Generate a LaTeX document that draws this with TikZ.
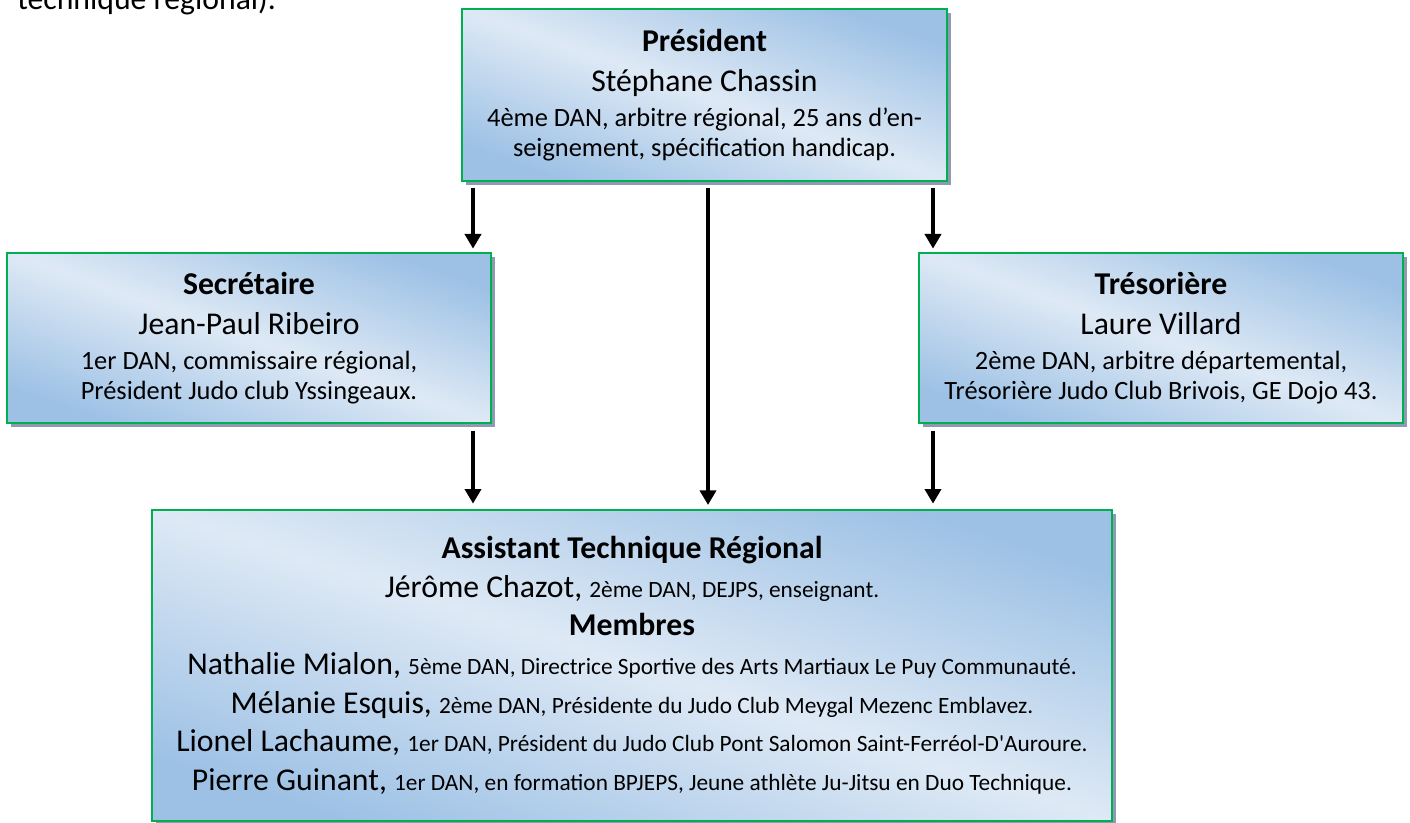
\documentclass[tikz,border=0pt]{standalone}
\usepackage{fontspec}
\setmainfont{Carlito}
\usetikzlibrary{arrows.meta,shadows}

\definecolor{boxgreen}{RGB}{0,176,80}
\definecolor{boxdark}{RGB}{157,193,229}
\definecolor{boxlight}{RGB}{222,233,245}
\definecolor{shadowgray}{RGB}{140,155,178}

\newcommand{\detail}[1]{{\fontsize{17.5}{29}\selectfont #1}}
\newcommand{\topdetail}{\fontsize{19.8}{22.5}\selectfont}

\begin{document}
\begin{tikzpicture}[x=0.75pt,y=-0.75pt,
    orgbox/.style={draw=boxgreen,line width=1.5pt,top color=boxdark,bottom color=boxdark,middle color=boxlight,shading angle=-19.5,
      drop shadow={shadow xshift=3pt,shadow yshift=-3pt,fill=shadowgray,opacity=1},align=center,inner sep=0pt},
    link/.style={line width=3pt,-{Triangle[width=12pt,length=11pt]}}]
  \useasboundingbox (0,0) rectangle (1410,823);

  % Text above the chart
  \node[anchor=base west,inner sep=0pt,font=\fontsize{23.8}{29}\selectfont] (intro) at (17,10) {technique régional).};

  % Columns of the arrows
  \coordinate (lcol) at (473,0);
  \coordinate (mcol) at (708,0);
  \coordinate (rcol) at (933,0);

  % President
  \node[orgbox,minimum width=363.75pt,minimum height=129pt,font=\fontsize{23.8}{30}\selectfont] (pres) at (704.5,95)
    {{\bfseries Président}\\ Stéphane Chassin\\[-4pt] \topdetail 4ème DAN, arbitre régional, 25 ans d’en-\\[-7.5pt] \topdetail seignement, spécification handicap.};

  % Secretary and treasurer
  \node[orgbox,minimum width=363pt,minimum height=127.5pt,font=\fontsize{23.8}{30}\selectfont] (sec) at (249,338)
    {{\bfseries Secrétaire}\\ Jean-Paul Ribeiro\\[-4pt] \topdetail 1er DAN, commissaire régional,\\[-7.5pt] \topdetail Président Judo club Yssingeaux.};
  \node[orgbox,minimum width=363pt,minimum height=127.5pt,font=\fontsize{23.8}{30}\selectfont] (tres) at (1161,338)
    {{\bfseries Trésorière}\\ Laure Villard\\[-4pt] \topdetail 2ème DAN, arbitre départemental,\\[-7.5pt] \topdetail Trésorière Judo Club Brivois, GE Dojo 43.};

  % Technical assistant and members
  \node[orgbox,minimum width=720pt,minimum height=233.25pt,shading angle=-18,font=\fontsize{23.8}{29}\selectfont] (atr) at (632,665.5)
    {{\bfseries Assistant Technique Régional}\\
     Jérôme Chazot, \detail{2ème DAN, DEJPS, enseignant.}\\
     {\bfseries Membres}\\
     Nathalie Mialon, \detail{5ème DAN, Directrice Sportive des Arts Martiaux Le Puy Communauté.}\\
     Mélanie Esquis, \detail{2ème DAN, Présidente du Judo Club Meygal Mezenc Emblavez.}\\
     Lionel Lachaume, \detail{1er DAN, Président du Judo Club Pont Salomon Saint-Ferréol-D\textquotesingle Auroure.}\\
     Pierre Guinant, \detail{1er DAN, en formation BPJEPS, Jeune athlète Ju-Jitsu en Duo Technique.}};

  % Arrows
  \draw[link,shorten <=4.5pt,shorten >=2.5pt] (pres.south -| lcol) -- (sec.north -| lcol);
  \draw[link,shorten <=4.5pt,shorten >=2.5pt] (pres.south -| rcol) -- (tres.north -| rcol);
  \draw[link,shorten <=4.5pt,shorten >=3pt] (pres.south -| mcol) -- (atr.north -| mcol);
  \draw[link,shorten <=5pt,shorten >=4pt] (sec.south -| lcol) -- (atr.north -| lcol);
  \draw[link,shorten <=5pt,shorten >=4pt] (tres.south -| rcol) -- (atr.north -| rcol);
\end{tikzpicture}
\end{document}
